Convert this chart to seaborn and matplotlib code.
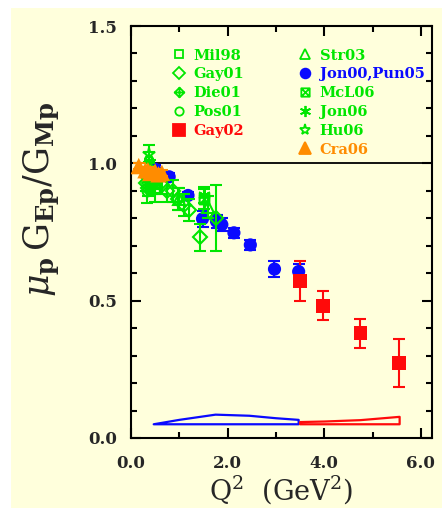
import matplotlib
matplotlib.use("Agg")
import matplotlib.pyplot as plt
from matplotlib.path import Path
from matplotlib.lines import Line2D
from matplotlib.patches import Rectangle
from matplotlib.ticker import MultipleLocator, FormatStrFormatter
import seaborn as sns
import pandas as pd

# ---- data ----
mil98_q2 = [0.38, 0.50]
mil98_r = [0.95, 0.91]
mil98_e = [0.05, 0.05]

gay01_q2 = [0.32, 0.35, 0.38, 0.54, 0.64, 0.75, 0.87, 0.97, 1.09, 1.20, 1.42, 1.76]
gay01_r = [0.93, 0.91, 0.93, 0.94, 0.92, 0.90, 0.90, 0.87, 0.85, 0.83, 0.73, 0.80]
gay01_e = [0.03, 0.03, 0.03, 0.03, 0.03, 0.04, 0.04, 0.04, 0.04, 0.04, 0.05, 0.12]

die01_q2 = [0.40]
die01_r = [0.979]
die01_e = [0.032]

pos01_q2 = [0.33, 0.40, 0.44]
pos01_r = [0.90, 0.95, 0.93]
pos01_e = [0.045, 0.04, 0.04]

str03_q2 = [0.50, 1.00, 1.60]
str03_r = [0.93, 0.87, 0.84]
str03_e = [0.04, 0.04, 0.04]

mcl06_q2 = [1.51]
mcl06_r = [0.87]
mcl06_e = [0.035]

jon06_q2 = [1.51]
jon06_r = [0.884]
jon06_e = [0.03]

hu06_q2 = [0.38]
hu06_r = [1.035]
hu06_e = [0.03]

jon00_q2 = [0.49, 0.79, 1.18, 1.48, 1.77, 1.88, 2.13, 2.47, 2.97, 3.47]
jon00_r = [0.979, 0.951, 0.883, 0.798, 0.789, 0.777, 0.747, 0.703, 0.615, 0.606]
jon00_e = [0.016, 0.012, 0.013, 0.029, 0.024, 0.024, 0.019, 0.019, 0.029, 0.029]

gay02_q2 = [3.50, 3.97, 4.75, 5.54]
gay02_r = [0.571, 0.482, 0.382, 0.273]
gay02_e = [0.072, 0.052, 0.053, 0.087]

cra06_q2 = [0.16, 0.30, 0.35, 0.40, 0.50, 0.57, 0.64]
cra06_r = [0.99, 0.975, 0.975, 0.965, 0.97, 0.96, 0.965]
cra06_e = [0.01, 0.01, 0.01, 0.01, 0.01, 0.01, 0.01]

# systematic bands (outlines)
sys_blue_q2 = [0.47, 1.00, 1.75, 2.45, 3.00, 3.47]
sys_blue_top = [0.050, 0.066, 0.085, 0.081, 0.072, 0.066]
sys_red_q2 = [3.50, 4.00, 4.75, 5.56]
sys_red_top = [0.058, 0.060, 0.065, 0.077]
sys_base = 0.05

GREEN = "#00e600"
BLUE = "#0a0aff"
RED = "#ff0a0a"
ORANGE = "#ff8c00"
BG = "#ffffdc"

sns.set_theme(style="ticks")
plt.rcParams["font.family"] = ["DejaVu Serif"]
plt.rcParams["mathtext.fontset"] = "dejavuserif"

fig = plt.figure(figsize=(4.42, 5.18), dpi=100)
fig.patch.set_facecolor("white")
fig.patches.append(Rectangle((11 / 442, 10 / 518), 431 / 442, 500 / 518,
                             transform=fig.transFigure, facecolor=BG,
                             edgecolor="none", zorder=-10))
ax = fig.add_axes([131 / 442, 80 / 518, 301 / 442, 412 / 518])
ax.set_facecolor(BG)

# diamond with cross, square with X
die_marker = Path([(0, 1), (1, 0), (0, -1), (-1, 0), (0, 1), (0, 1), (0, -1), (-1, 0), (1, 0)],
                  [Path.MOVETO, Path.LINETO, Path.LINETO, Path.LINETO, Path.CLOSEPOLY,
                   Path.MOVETO, Path.LINETO, Path.MOVETO, Path.LINETO])
mcl_marker = Path([(-1, -1), (1, -1), (1, 1), (-1, 1), (-1, -1), (-1, -1), (1, 1), (-1, 1), (1, -1)],
                  [Path.MOVETO, Path.LINETO, Path.LINETO, Path.LINETO, Path.CLOSEPOLY,
                   Path.MOVETO, Path.LINETO, Path.MOVETO, Path.LINETO])

ebkw = dict(fmt="none", capsize=4.5, capthick=1.5, elinewidth=1.5)

# systematic bands
ax.fill_between(sys_blue_q2, sys_base, sys_blue_top, facecolor="none", edgecolor=BLUE, linewidth=1.6)
ax.fill_between(sys_red_q2, sys_base, sys_red_top, facecolor="none", edgecolor=RED, linewidth=1.6)

ax.axhline(1.0, color="black", linewidth=1.3, zorder=1)

# blue and red filled points
blue_df = pd.DataFrame({"q2": jon00_q2, "r": jon00_r, "e": jon00_e})
ax.errorbar(blue_df.q2, blue_df.r, yerr=blue_df.e, ecolor=BLUE, zorder=2, **ebkw)
sns.scatterplot(data=blue_df, x="q2", y="r", marker="o", s=90, color=BLUE,
                edgecolor="none", ax=ax, zorder=3, legend=False)

red_df = pd.DataFrame({"q2": gay02_q2, "r": gay02_r, "e": gay02_e})
ax.errorbar(red_df.q2, red_df.r, yerr=red_df.e, ecolor=RED, zorder=2, **ebkw)
sns.scatterplot(data=red_df, x="q2", y="r", marker="s", s=100, color=RED,
                edgecolor="none", ax=ax, zorder=3, legend=False)

# green open symbols
green_sets = [
    (mil98_q2, mil98_r, mil98_e, "s", 7),
    (gay01_q2, gay01_r, gay01_e, "D", 7),
    (die01_q2, die01_r, die01_e, die_marker, 8),
    (pos01_q2, pos01_r, pos01_e, "o", 7),
    (str03_q2, str03_r, str03_e, "^", 8),
    (mcl06_q2, mcl06_r, mcl06_e, mcl_marker, 7),
    (jon06_q2, jon06_r, jon06_e, (6, 2, 0), 9),
    (hu06_q2, hu06_r, hu06_e, "*", 9),
]
for q2, r, e, mk, ms in green_sets:
    ax.errorbar(q2, r, yerr=e, ecolor=GREEN, zorder=4, **ebkw)
    ax.plot(q2, r, linestyle="none", marker=mk, markersize=ms, markerfacecolor="none",
            markeredgecolor=GREEN, markeredgewidth=1.5, zorder=4)

# orange filled triangles
cra_df = pd.DataFrame({"q2": cra06_q2, "r": cra06_r, "e": cra06_e})
ax.errorbar(cra_df.q2, cra_df.r, yerr=cra_df.e, ecolor=ORANGE, zorder=5, **ebkw)
sns.scatterplot(data=cra_df, x="q2", y="r", marker="^", s=140, color=ORANGE,
                edgecolor="none", ax=ax, zorder=6, legend=False)

# axes
ax.set_xlim(0, 6.23)
ax.set_ylim(0, 1.5)
ax.xaxis.set_major_locator(MultipleLocator(2.0))
ax.xaxis.set_minor_locator(MultipleLocator(1.0))
ax.yaxis.set_major_locator(MultipleLocator(0.5))
ax.yaxis.set_minor_locator(MultipleLocator(0.1))
ax.xaxis.set_major_formatter(FormatStrFormatter("%.1f"))
ax.yaxis.set_major_formatter(FormatStrFormatter("%.1f"))
ax.tick_params(which="both", direction="in", top=True, right=True, width=1.5, color="black")
ax.tick_params(which="major", length=7, labelsize=12)
ax.tick_params(axis="x", which="major", pad=12)
ax.tick_params(axis="y", which="major", pad=10)
ax.tick_params(which="minor", length=4)
for lab in ax.get_xticklabels() + ax.get_yticklabels():
    lab.set_fontweight("bold")
for sp in ax.spines.values():
    sp.set_linewidth(1.5)
    sp.set_color("black")

ax.set_xlabel(r"Q$^{\mathrm{2}}$  (GeV$^{\mathrm{2}}$)", fontsize=19.5, labelpad=1)
ax.set_ylabel(r"$\mu_{\mathbf{p}}\,\mathrm{G}_{\mathbf{Ep}}/\mathrm{G}_{\mathbf{Mp}}$", fontsize=25)
ax.yaxis.set_label_coords(-0.23, 0.58)

# legends
def handle(mk, color, filled, ms):
    return Line2D([], [], linestyle="none", marker=mk, markersize=ms,
                  markerfacecolor=color if filled else "none",
                  markeredgecolor=color, markeredgewidth=1.3)

left_names = ["Mil98", "Gay01", "Die01", "Pos01", "Gay02"]
left_handles = [handle("s", GREEN, False, 6), handle("D", GREEN, False, 6),
                handle(die_marker, GREEN, False, 7), handle("o", GREEN, False, 6),
                handle("s", RED, True, 8)]
left_colors = [GREEN, GREEN, GREEN, GREEN, RED]

right_names = ["Str03", "Jon00,Pun05", "McL06", "Jon06", "Hu06", "Cra06"]
right_handles = [handle("^", GREEN, False, 7), handle("o", BLUE, True, 7),
                 handle(mcl_marker, GREEN, False, 6), handle((6, 2, 0), GREEN, False, 8),
                 handle("*", GREEN, False, 8), handle("^", ORANGE, True, 8)]
right_colors = [GREEN, BLUE, GREEN, GREEN, GREEN, ORANGE]

legkw = dict(loc="upper left", frameon=False, handlelength=1.0, handletextpad=0.5,
             borderpad=0, labelspacing=0.33, prop={"weight": "bold", "size": 10.5})
leg1 = ax.legend(left_handles, left_names, bbox_to_anchor=(0.11, 0.963),
                 labelcolor=left_colors, **legkw)
ax.add_artist(leg1)
ax.legend(right_handles, right_names, bbox_to_anchor=(0.53, 0.963),
          labelcolor=right_colors, **legkw)

fig.savefig("out.png", dpi=100, facecolor="white")
